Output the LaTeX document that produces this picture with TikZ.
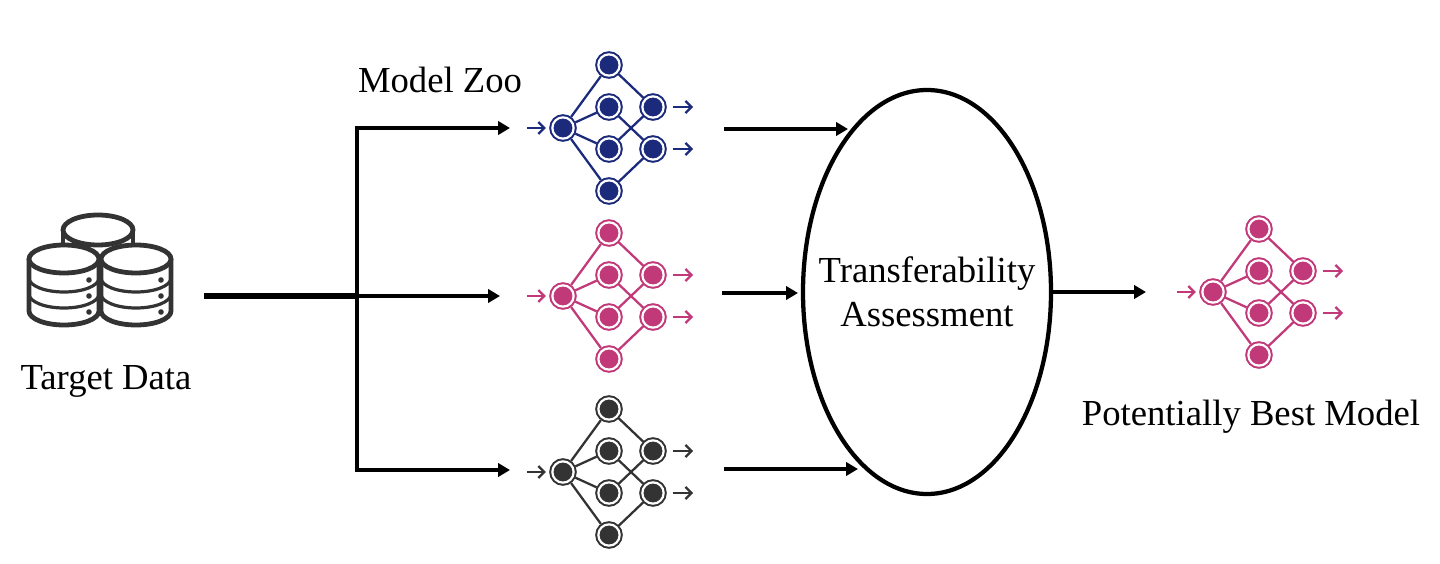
\documentclass[tikz,border=0pt]{standalone}
\usepackage{fontspec}
\setmainfont{Liberation Serif}
\usetikzlibrary{shapes.geometric, arrows.meta, positioning}

\definecolor{navynet}{HTML}{1B2A7B}
\definecolor{pinknet}{HTML}{C2397A}
\definecolor{darknet}{HTML}{333333}

\begin{document}
\begin{tikzpicture}[
    x=0.75pt, y=-0.75pt,
    dbline/.style={draw=darknet, line width=3.6pt},
    dbring/.style={draw=darknet, line width=2.4pt},
    lbl/.style={font=\fontsize{27.5}{33}\selectfont, align=center},
    arrow/.style={-{Triangle[length=9pt,width=10pt]}, line width=3.2pt},
    thinarrow/.style={-{Straight Barb[length=4.5pt,width=9pt]}},
    neuron/.style={circle, draw=#1, fill=#1, double=white, double distance=1.65pt, line width=1.5pt,
        inner sep=0pt, outer sep=2.3pt, minimum size=16pt},
    pics/zoonet/.style={code={
        \begin{scope}[color=#1, line width=1.7pt]
        \node[neuron=#1] (in) at (0,0) {};
        \node[neuron=#1] (a) at (46,-63) {};
        \node[neuron=#1] (b) at (46,-21) {};
        \node[neuron=#1] (c) at (46,21) {};
        \node[neuron=#1] (d) at (46,63) {};
        \node[neuron=#1] (p) at (90,-21) {};
        \node[neuron=#1] (q) at (90,21) {};
        \coordinate (i) at (-36,0);
        \coordinate (u) at (130,-21);
        \coordinate (v) at (130,21);
        \foreach \t in {a,b,c,d} \draw (in) -- (\t);
        \draw (a) -- (p);
        \draw (c) -- (p);
        \draw (b) -- (q);
        \draw (d) -- (q);
        \draw[thinarrow] (i) -- ([xshift=-2.5pt]in.west);
        \draw[thinarrow] ([xshift=4.5pt]p.east) -- (u);
        \draw[thinarrow] ([xshift=4.5pt]q.east) -- (v);
        \end{scope}
    }},
    pics/drum/.style={code={
        \draw[dbline, fill=white] (-35,0) -- (-35,52) arc[start angle=180, end angle=0, x radius=35, y radius=14] -- (35,0);
        \draw[dbline, fill=white] (0,0) ellipse[x radius=35, y radius=14];
        \foreach \y in {19,35} \draw[dbring] (-35,\y) arc[start angle=180, end angle=0, x radius=35, y radius=14];
        \foreach \y in {21,37,53} \fill[darknet] (25,\y) circle[radius=2.8];
    }},
]
\useasboundingbox (0,0) rectangle (1440,564);

% Target data
\draw[dbline, fill=white] (63,230) -- (63,262) -- (133,262) -- (133,230);
\draw[dbline, fill=white] (98,230) ellipse[x radius=35, y radius=15];
\pic at (64,259) {drum};
\pic at (136,259) {drum};
\node[lbl] (target) at (106,381) {Target Data};
\coordinate (dataout) at (204,296);
\coordinate (split) at (357,296);

% Model zoo
\node[lbl] (zoo) at (440,80) {Model Zoo};
\pic (blue) at (563,128) {zoonet=navynet};
\pic (pink) at (563,296) {zoonet=pinknet};
\pic (dark) at (563,472) {zoonet=darknet};

% Assessment
\node[ellipse, draw, line width=3.2pt, lbl, inner xsep=-20pt, inner ysep=0pt, outer sep=0pt, minimum width=186pt, minimum height=303pt] (assess) at (927,292) {Transferability\\Assessment};

% Best model
\pic (best) at (1213,292) {zoonet=pinknet};
\node[lbl, below=20pt of bestd, xshift=-6pt] (bestlbl) {Potentially Best Model};

% Arrows
\coordinate (blueport) at (510,128);
\coordinate (pinkport) at (500,296);
\coordinate (darkport) at (510,470);
\coordinate (blueout) at (724,129);
\coordinate (pinkout) at (722,293);
\coordinate (darkout) at (724,469);
\coordinate (bluetip) at (848,129);
\coordinate (darktip) at (858,469);
\coordinate (pinktip) at (798,293);
\coordinate (bestport) at (1146,292);

\draw[line width=3.8pt] (dataout) -- (split);
\draw[arrow] (split) -- (pinkport);
\draw[arrow] (split) |- (blueport);
\draw[arrow] (split) |- (darkport);
\draw[arrow] (blueout) -- (bluetip);
\draw[arrow] (pinkout) -- (pinktip);
\draw[arrow] (darkout) -- (darktip);
\draw[arrow] (assess.east) -- (bestport);

\end{tikzpicture}
\end{document}
